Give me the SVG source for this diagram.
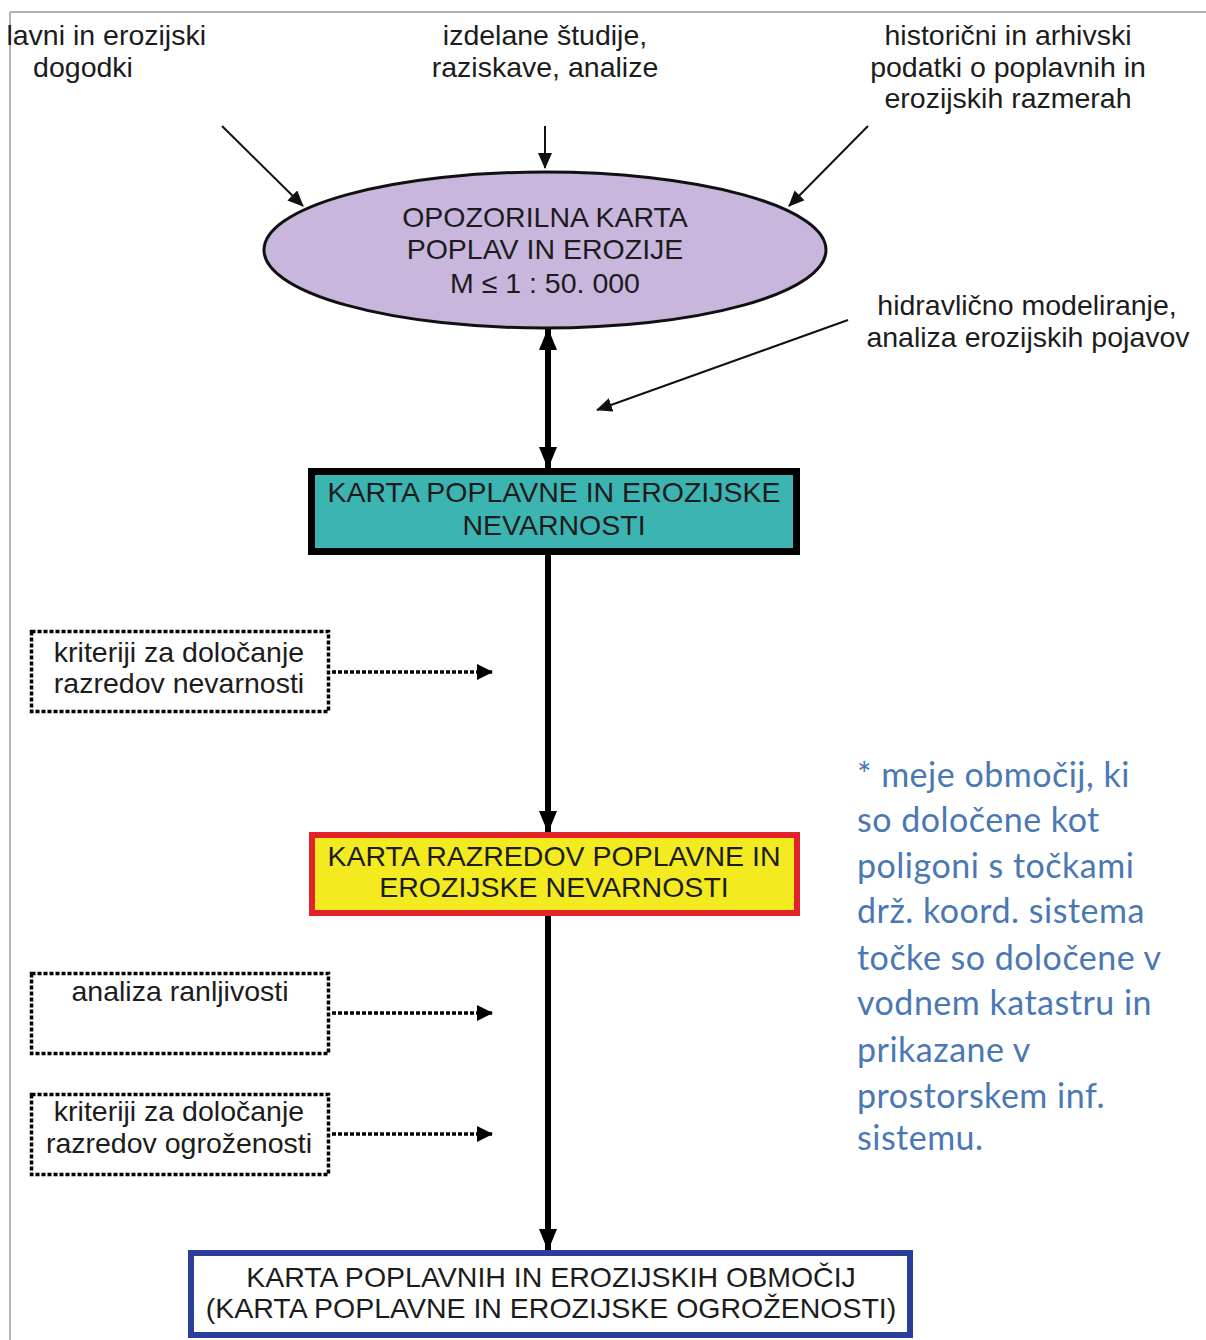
<svg xmlns="http://www.w3.org/2000/svg" width="1206" height="1340" viewBox="0 0 1206 1340">
<defs>
<style>
.t{font-family:"Liberation Sans",Arial,sans-serif;font-size:28.5px;fill:#1c1c1c;text-anchor:middle}
.note{font-family:Lato,"Open Sans",sans-serif;font-size:34px;letter-spacing:0.5px;fill:#4a78b4}
.thin{stroke:#111;stroke-width:2;fill:none}
.thick{stroke:#000;stroke-width:6;fill:none}
.dot{stroke:#000;stroke-width:3.5;stroke-dasharray:4 2;fill:none}
</style>
<marker id="ah" markerUnits="userSpaceOnUse" markerWidth="16" markerHeight="14" refX="15" refY="7" orient="auto"><path d="M0,0 L16,7 L0,14 Z" fill="#111"/></marker>
<marker id="ahB" markerUnits="userSpaceOnUse" markerWidth="22" markerHeight="18" refX="21" refY="9" orient="auto"><path d="M0,0 L22,9 L0,18 Z" fill="#000"/></marker>
<marker id="ahBs" markerUnits="userSpaceOnUse" markerWidth="22" markerHeight="18" refX="1" refY="9" orient="auto"><path d="M22,0 L0,9 L22,18 Z" fill="#000"/></marker>
<marker id="ahD" markerUnits="userSpaceOnUse" markerWidth="16" markerHeight="16" refX="15" refY="8" orient="auto"><path d="M0,0 L16,8 L0,16 Z" fill="#000"/></marker>
</defs>
<rect width="1206" height="1340" fill="#fff"/>
<g id="frame" stroke="#9a9a9a" stroke-width="1.5" fill="none">
<line x1="10" y1="12" x2="1206" y2="12"/>
<line x1="10" y1="12" x2="10" y2="1340"/>
</g>

<g id="src-left">
<text class="t" x="206" y="45" style="text-anchor:end">lavni in erozijski</text>
<text class="t" x="83" y="77">dogodki</text>
</g>
<g id="src-center">
<text class="t" x="545" y="45">izdelane študije,</text>
<text class="t" x="545" y="77">raziskave, analize</text>
</g>
<g id="src-right">
<text class="t" x="1008" y="45">historični in arhivski</text>
<text class="t" x="1008" y="77">podatki o poplavnih in</text>
<text class="t" x="1008" y="108">erozijskih razmerah</text>
</g>
<g id="src-hydro">
<text class="t" x="1027" y="315">hidravlično modeliranje,</text>
<text class="t" x="1028" y="347">analiza erozijskih pojavov</text>
</g>

<g id="connectors">
<line class="thin" x1="222" y1="126" x2="303" y2="206" marker-end="url(#ah)"/>
<line class="thin" x1="545" y1="126" x2="545" y2="168" marker-end="url(#ah)"/>
<line class="thin" x1="868" y1="126" x2="789" y2="206" marker-end="url(#ah)"/>
<line class="thin" x1="848" y1="320" x2="597" y2="410" marker-end="url(#ah)"/>
<line class="thick" x1="548" y1="329" x2="548" y2="468" marker-start="url(#ahBs)" marker-end="url(#ahB)"/>
<line class="thick" x1="548" y1="555" x2="548" y2="832" marker-end="url(#ahB)"/>
<line class="thick" x1="548" y1="916" x2="548" y2="1250" marker-end="url(#ahB)"/>
<line class="dot" x1="332" y1="672" x2="492" y2="672" marker-end="url(#ahD)"/>
<line class="dot" x1="332" y1="1013" x2="492" y2="1013" marker-end="url(#ahD)"/>
<line class="dot" x1="332" y1="1134" x2="492" y2="1134" marker-end="url(#ahD)"/>
</g>

<g id="opozorilna">
<ellipse cx="545" cy="250" rx="281" ry="78" fill="#c8b6dc" stroke="#111" stroke-width="3"/>
<text class="t" x="545" y="227">OPOZORILNA KARTA</text>
<text class="t" x="545" y="259">POPLAV IN EROZIJE</text>
<text class="t" x="545" y="293">M ≤ 1 : 50. 000</text>
</g>

<g id="nevarnost">
<rect x="311.5" y="471.5" width="485" height="80" fill="#3cb4b1" stroke="#000" stroke-width="7"/>
<text class="t" x="554" y="502">KARTA POPLAVNE IN EROZIJSKE</text>
<text class="t" x="554" y="535">NEVARNOSTI</text>
</g>

<g id="kriteriji-nevarnosti">
<rect class="dot" x="31.5" y="631.5" width="297" height="80"/>
<text class="t" x="179" y="662">kriteriji za določanje</text>
<text class="t" x="179" y="693">razredov nevarnosti</text>
</g>

<g id="razredi">
<rect x="312" y="835" width="485" height="78" fill="#f3ea1f" stroke="#e2232a" stroke-width="6"/>
<text class="t" x="554" y="866">KARTA RAZREDOV POPLAVNE IN</text>
<text class="t" x="554" y="897">EROZIJSKE NEVARNOSTI</text>
</g>

<g id="ranljivost">
<rect class="dot" x="31.5" y="973.5" width="297" height="80"/>
<text class="t" x="180" y="1001">analiza ranljivosti</text>
</g>

<g id="kriteriji-ogrozenosti">
<rect class="dot" x="31.5" y="1094.5" width="297" height="80"/>
<text class="t" x="179" y="1121">kriteriji za določanje</text>
<text class="t" x="179" y="1153">razredov ogroženosti</text>
</g>

<g id="obmocja">
<rect x="191" y="1253" width="719" height="82" fill="#fff" stroke="#2b3f9a" stroke-width="6"/>
<text class="t" x="551" y="1287">KARTA POPLAVNIH IN EROZIJSKIH OBMOČIJ</text>
<text class="t" x="551" y="1318">(KARTA POPLAVNE IN EROZIJSKE OGROŽENOSTI)</text>
</g>

<g id="note">
<text class="note" x="857" y="787">* meje območij, ki</text>
<text class="note" x="857" y="832">so določene kot</text>
<text class="note" x="857" y="878">poligoni s točkami</text>
<text class="note" x="857" y="923">drž. koord. sistema</text>
<text class="note" x="857" y="970">točke so določene v</text>
<text class="note" x="857" y="1015">vodnem katastru in</text>
<text class="note" x="857" y="1062">prikazane v</text>
<text class="note" x="857" y="1108">prostorskem inf.</text>
<text class="note" x="857" y="1150">sistemu.</text>
</g>
</svg>
